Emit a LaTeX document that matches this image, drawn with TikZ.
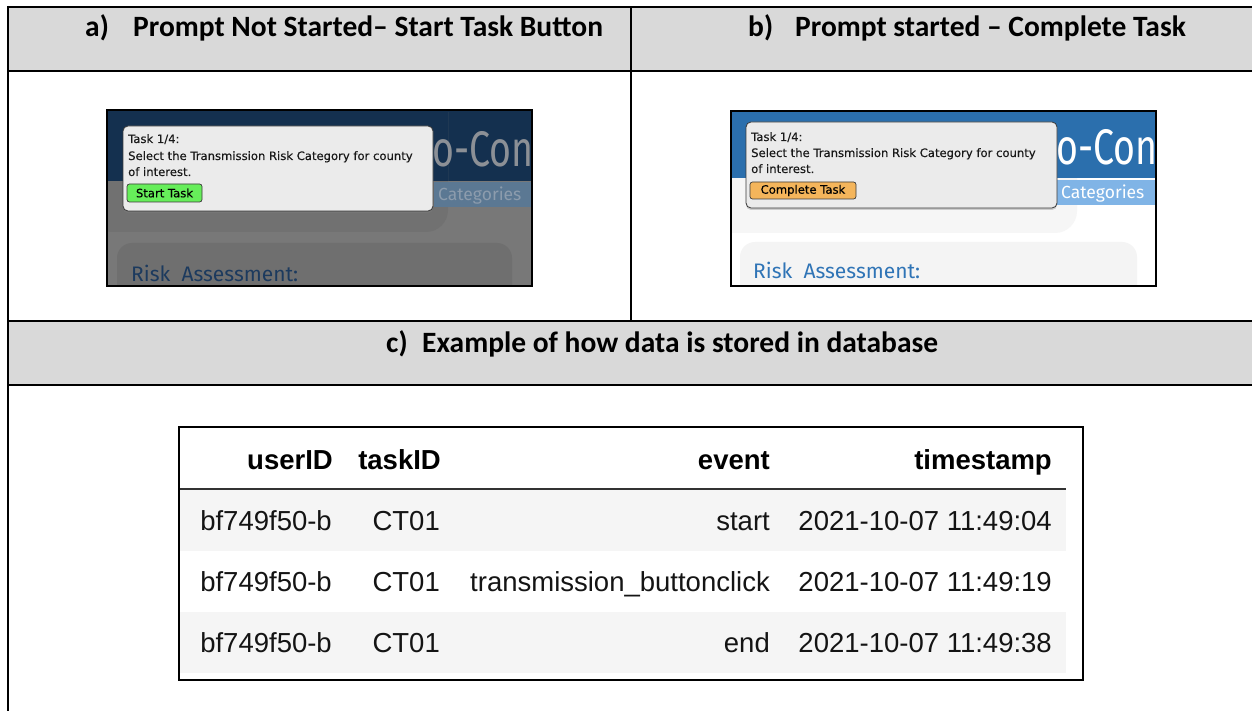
\documentclass[tikz,border=0pt]{standalone}
\usepackage{fontspec}
\newfontfamily\hdr{Carlito}
\newfontfamily\tbl{Liberation Sans}
\newfontfamily\ui[FakeBold=0.35]{DejaVu Sans}
\newfontfamily\web{Fira Sans}
\usetikzlibrary{shadows}
\definecolor{hdrgray}{HTML}{D9D9D9}
\definecolor{navydim}{HTML}{14304F}
\definecolor{graydim}{HTML}{787878}
\definecolor{behinddim}{HTML}{717171}
\definecolor{catdim}{HTML}{5B7893}
\definecolor{cattextdim}{HTML}{8C9CAD}
\definecolor{ocondim}{HTML}{8C9096}
\definecolor{carddim}{HTML}{6F6F6F}
\definecolor{risktextdim}{HTML}{1C3A5E}
\definecolor{webblue}{HTML}{2B6FAD}
\definecolor{catlight}{HTML}{80B4E6}
\definecolor{behind}{HTML}{F6F6F6}
\definecolor{card}{HTML}{F4F4F4}
\definecolor{risktext}{HTML}{2F74B6}
\definecolor{popfill}{HTML}{EBEBEB}
\definecolor{popborder}{HTML}{3A3A3A}
\definecolor{btngreen}{HTML}{66EE5A}
\definecolor{btnorange}{HTML}{F4B55B}
\definecolor{rowgray}{HTML}{F5F5F5}
\definecolor{hline}{HTML}{333333}
\tikzset{
  rule/.style={line width=2pt, black},
  hdrtext/.style={font=\hdr\bfseries\fontsize{29.5}{29.5}\selectfont, anchor=base west, inner sep=0pt},
  poptext/.style={font=\ui\fontsize{11.6}{11.6}\selectfont, anchor=base west, inner sep=0pt, text=black!90},
  popup/.style={fill=popfill, draw=popborder, line width=0.8pt, rounded corners=5pt,
     drop shadow={opacity=0.35, shadow xshift=0pt, shadow yshift=-2pt}},
  btn/.style={draw=popborder, line width=0.7pt, rounded corners=2.5pt},
  btntext/.style={font=\ui\fontsize{11.6}{11.6}\selectfont, inner sep=0pt, text=black},
  tblhead/.style={font=\tbl\bfseries\fontsize{27.5}{27.5}\selectfont, anchor=base east, inner sep=0pt},
  tblcell/.style={font=\tbl\fontsize{27.5}{27.5}\selectfont, anchor=base east, inner sep=0pt, text=black!92},
  frame/.style={draw=black, line width=2pt},
}
\begin{document}
\begin{tikzpicture}[x=1pt,y=-1pt]
\useasboundingbox (0,0) rectangle (1252,711);
\fill[white] (0,0) rectangle (1252,711);
% header fills
\fill[hdrgray] (8,7) rectangle (1252,71);
\fill[hdrgray] (8,321) rectangle (1252,385);
% rules
\draw[rule] (7,7) -- (1252,7);
\draw[rule] (7,71) -- (1252,71);
\draw[rule] (7,321) -- (1252,321);
\draw[rule] (7,385) -- (1252,385);
\draw[rule] (8,6) -- (8,711);
\draw[rule] (631,7) -- (631,321);
% header texts
\node[hdrtext] (ha) at (85,37) {a)};
\node[hdrtext] (hat) at (133,37) {Prompt Not Started– Start Task Button};
\node[hdrtext] (hb) at (748,37) {b)};
\node[hdrtext] (hbt) at (795,37) {Prompt started – Complete Task};
\node[hdrtext] (hc) at (386,352) {c)};
\node[hdrtext] (hct) at (422,352) {Example of how data is stored in database};

% ---------- screenshot a ----------
\begin{scope}
\clip (107,110) rectangle (532,286);
\fill[graydim] (107,110) rectangle (532,286);
\fill[navydim] (107,110) rectangle (532,181);
\fill[behinddim, rounded corners=22pt] (90,90) rectangle (448,232);
\fill[navydim] (107,110) rectangle (448,181);
\fill[catdim] (434,182) rectangle (532,207);
\node[font=\web\fontsize{17.5}{17.5}\selectfont, text=cattextdim, anchor=base west, inner sep=0pt] (cata) at (438,201) {Categories};
\node[font=\web\fontsize{50}{50}\selectfont, text=ocondim, anchor=base west, inner sep=0pt] (ocona) at (432,167) {\scalebox{0.75}[1]{o-Con}};
\fill[carddim, rounded corners=15pt] (117,243) rectangle (512,320);
\node[font=\web\fontsize{21}{21}\selectfont, text=risktextdim, anchor=base west, inner sep=0pt] (riska) at (131,281) {Risk\ \ Assessment:};
\end{scope}
\draw[frame] (107,110) rectangle (532,286);
\draw[popup] (123,126) rectangle (433,211);
\node[poptext] (ta1) at (128,143) {Task 1/4:};
\node[poptext] (ta2) at (128,160) {Select the Transmission Risk Category for county};
\node[poptext] (ta3) at (128,176) {of interest.};
\draw[btn, fill=btngreen] (127,184) rectangle (202,202);
\node[btntext] (sta) at (164.5,193) {Start Task};

% ---------- screenshot b ----------
\begin{scope}
\clip (731,111) rectangle (1156,286);
\fill[white] (731,111) rectangle (1156,286);
\fill[behind, rounded corners=22pt] (710,90) rectangle (1077,233);
\fill[webblue] (731,111) rectangle (1156,178);
\fill[catlight] (1057,180) rectangle (1156,205);
\node[font=\web\fontsize{17.5}{17.5}\selectfont, text=white, anchor=base west, inner sep=0pt] (catb) at (1061,199) {Categories};
\node[font=\web\fontsize{50}{50}\selectfont, text=white, anchor=base west, inner sep=0pt] (oconb) at (1056,165) {\scalebox{0.75}[1]{o-Con}};
\fill[card, rounded corners=15pt] (740,242) rectangle (1137,320);
\node[font=\web\fontsize{21}{21}\selectfont, text=risktext, anchor=base west, inner sep=0pt] (riskb) at (753,279) {Risk\ \ Assessment:};
\end{scope}
\draw[frame] (731,111) rectangle (1156,286);
\draw[popup] (746,122) rectangle (1057,208);
\node[poptext] (tb1) at (751,141) {Task 1/4:};
\node[poptext] (tb2) at (751,157) {Select the Transmission Risk Category for county};
\node[poptext] (tb3) at (751,173) {of interest.};
\draw[btn, fill=btnorange] (750,182) rectangle (856,199);
\node[btntext] (ctb) at (803,190.5) {Complete Task};

% ---------- table ----------
\fill[rowgray] (180,490) rectangle (1066,551);
\fill[rowgray] (180,612) rectangle (1066,673);
\draw[hline, line width=2pt] (180,489) -- (1066,489);
\draw[black, line width=1.5pt] (179,427) rectangle (1083,680);
\node[tblhead] (h1) at (333,469) {userID};
\node[tblhead] (h2) at (441,469) {taskID};
\node[tblhead] (h3) at (770,469) {event};
\node[tblhead] (h4) at (1052,469) {timestamp};
\foreach \y/\ev/\ts [count=\i] in {530/start/2021-10-07 11:49:04, 591/transmission\_buttonclick/2021-10-07 11:49:19, 652/end/2021-10-07 11:49:38}{
  \node[tblcell] (u\i) at (332,\y) {bf749f50-b};
  \node[tblcell] (t\i) at (440,\y) {CT01};
  \node[tblcell] (e\i) at (770,\y) {\ev};
  \node[tblcell] (s\i) at (1052,\y) {\ts};
}
\end{tikzpicture}
\end{document}
